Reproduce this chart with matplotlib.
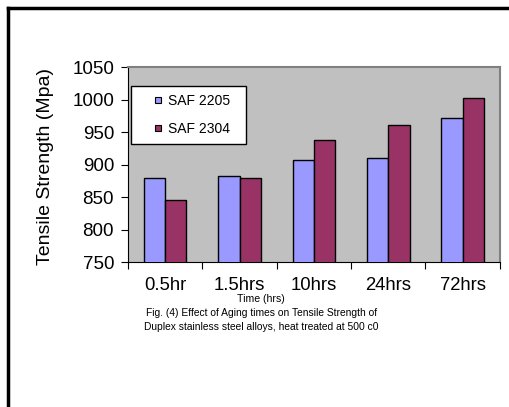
import numpy as np
import matplotlib
matplotlib.use("Agg")
import matplotlib.pyplot as plt
from matplotlib.lines import Line2D

plt.rcParams['font.family'] = ['Liberation Sans', 'DejaVu Sans']

# data
times = ['0.5hr', '1.5hrs', '10hrs', '24hrs', '72hrs']
saf2205 = [879, 882, 907, 910, 972]
saf2304 = [845, 880, 938, 961, 1003]
yticks = [750, 800, 850, 900, 950, 1000, 1050]
series = ['SAF 2205', 'SAF 2304']
colors = ['#9999ff', '#993366']

fig = plt.figure(figsize=(5.1, 4.07), dpi=100)
ax = fig.add_axes([0.251, 0.356, 0.729, 0.479])
ax.set_facecolor('#c0c0c0')

x = np.arange(len(times))
w = 0.286
ax.bar(x - w / 2, saf2205, w, color=colors[0], edgecolor='black', linewidth=1.0, zorder=3)
ax.bar(x + w / 2, saf2304, w, color=colors[1], edgecolor='black', linewidth=1.0, zorder=3)

ax.set_ylim(750, 1050)
ax.set_xlim(-0.5, len(times) - 0.5)
ax.set_yticks(yticks)
ax.tick_params(axis='y', labelsize=13.5, length=5, width=0.8, direction='out', pad=5)

# category labels without ticks, ticks at the boundaries
ax.set_xticks(x)
ax.set_xticklabels(times, fontsize=13.3)
ax.tick_params(axis='x', which='major', length=0, pad=11)
ax.set_xticks(np.arange(-0.5, len(times)), minor=True)
ax.tick_params(axis='x', which='minor', length=5, width=0.8, direction='out')

for s in ['top', 'right']:
    ax.spines[s].set_color('#808080')
    ax.spines[s].set_linewidth(1.5)
for s in ['left', 'bottom']:
    ax.spines[s].set_color('black')
    ax.spines[s].set_linewidth(0.8)

ax.set_ylabel('Tensile Strength (Mpa)', fontsize=14)
ax.yaxis.set_label_coords(-0.198, 0.49)

handles = [Line2D([], [], linestyle='none', marker='s', markersize=4.5,
                  markerfacecolor=c, markeredgecolor='black', markeredgewidth=0.8)
           for c in colors]
leg = ax.legend(handles, series, loc='upper left', mode='expand',
                bbox_to_anchor=(0.008, 0.0, 0.309, 0.903), fontsize=10,
                frameon=True, fancybox=False, edgecolor='black', framealpha=1,
                handlelength=2.7, labelspacing=1.0, borderpad=0.58,
                handletextpad=-0.6, borderaxespad=0)
leg.get_frame().set_linewidth(1.0)

fig.text(0.512, 0.265, 'Time (hrs)', fontsize=7.6, ha='center', va='center')
fig.text(0.512, 0.231, 'Fig. (4) Effect of Aging times on Tensile Strength of',
         fontsize=7.4, ha='center', va='center')
fig.text(0.512, 0.197, 'Duplex stainless steel alloys, heat treated at 500 c0',
         fontsize=7.4, ha='center', va='center')

# outer frame (top and left edges visible)
fig.add_artist(Line2D([0.015, 1.0], [0.980, 0.980], color='black', linewidth=2.5,
                      transform=fig.transFigure))
fig.add_artist(Line2D([0.015, 0.015], [0.0, 0.980], color='black', linewidth=2.5,
                      transform=fig.transFigure))

fig.savefig('out.png', dpi=100)
